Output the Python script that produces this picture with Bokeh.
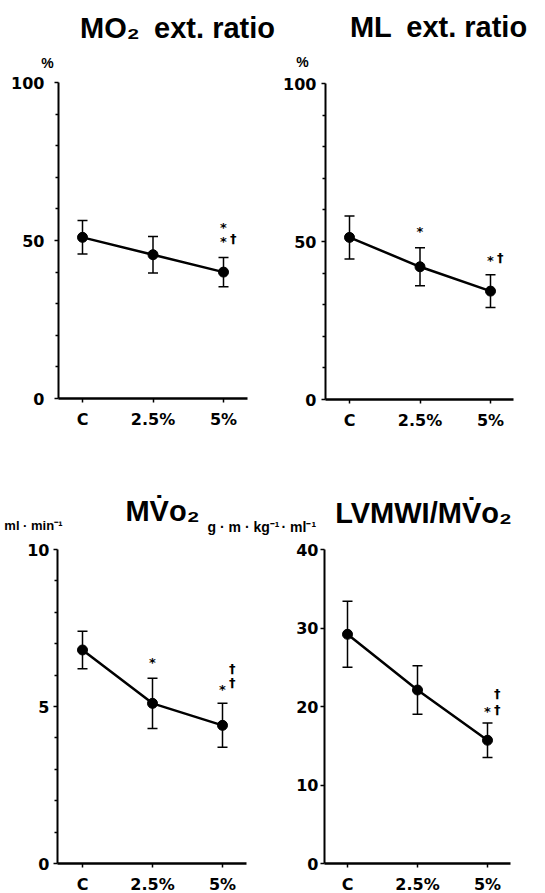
from bokeh.plotting import figure
from bokeh.models import FixedTicker, Whisker, TeeHead, ColumnDataSource, Label, Range1d
from bokeh.layouts import row, column
from bokeh.embed import file_html
from bokeh.resources import INLINE
from bokeh.core.properties import value

# ---------------- data ----------------
categories = ["C", "2.5%", "5%"]
x_idx = [0, 1, 2]

mo2_mean = [51.0, 45.5, 40.0]
mo2_sem = [5.3, 5.8, 4.6]

ml_mean = [51.3, 42.0, 34.3]
ml_sem = [6.8, 6.0, 5.2]

mvo2_mean = [6.8, 5.1, 4.4]
mvo2_sem = [0.6, 0.8, 0.7]

lvmwi_mean = [29.2, 22.1, 15.7]
lvmwi_sem = [4.2, 3.1, 2.2]

# significance marks: (category index, y, symbol)
mo2_marks = [(2, 54.0, "*"), (2, 49.8, "*"), (2.14, 50.6, "†")]
ml_marks = [(1, 53.3, "*"), (2, 44.0, "*"), (2.14, 44.8, "†")]
mvo2_marks = [(1, 6.4, "*"), (2, 5.55, "*"), (2.14, 5.75, "†"), (2.14, 6.2, "†")]
lvmwi_marks = [(2, 19.3, "*"), (2.14, 19.6, "†"), (2.14, 21.6, "†")]

TICK_FONT = "DejaVu Sans"
TITLE_FONT = "Liberation Sans"
SP = "\u2002"   # en space (not collapsed in SVG text)


class Panel:
    """A figure whose frame is the whole canvas; axes are pinned with fixed_location."""

    def __init__(self, W, H, cx0, dx, cy0, dy, ax_left_px, ax_right_px, y_end,
                 major, minor, ystand):
        self.cx0, self.dx, self.cy0, self.dy = cx0, dx, cy0, dy
        xr = Range1d(self.xd(0), self.xd(W))
        yr = Range1d(self.yd(H), self.yd(0))
        p = figure(width=W, height=H, title=None, x_range=xr, y_range=yr,
                   output_backend="svg", toolbar_location=None, min_border=0)
        p.outline_line_color = None
        p.grid.visible = False
        p.background_fill_color = "white"
        x_left = self.xd(ax_left_px)
        x_right = self.xd(ax_right_px)

        xa = p.xaxis[0]
        xa.fixed_location = 0
        xa.bounds = (x_left, x_right)
        xa.ticker = FixedTicker(ticks=x_idx)
        xa.major_label_overrides = {i: c for i, c in zip(x_idx, categories)}
        xa.minor_tick_line_color = None
        xa.major_tick_out = 4
        xa.major_tick_in = 0
        xa.major_tick_line_width = 1.5
        xa.axis_line_width = 2.5
        xa.major_label_standoff = 7
        xa.major_label_text_font = TICK_FONT
        xa.major_label_text_font_style = "bold"
        xa.major_label_text_font_size = "16px"
        xa.major_label_text_color = "black"

        ya = p.yaxis[0]
        ya.fixed_location = x_left
        ya.bounds = (0, y_end)
        ya.ticker = FixedTicker(ticks=major, minor_ticks=minor)
        ya.major_tick_out = 4
        ya.major_tick_in = 0
        ya.minor_tick_out = 3
        ya.minor_tick_in = 0
        ya.major_tick_line_width = 1.5
        ya.minor_tick_line_width = 1.5
        ya.axis_line_width = 2
        ya.major_label_standoff = ystand
        ya.major_label_text_font = TICK_FONT
        ya.major_label_text_font_style = "bold"
        ya.major_label_text_font_size = "16px"
        ya.major_label_text_color = "black"
        self.p = p

    def xd(self, px):
        return (px - self.cx0) / self.dx

    def yd(self, py):
        return (self.cy0 - py) / self.dy

    def series(self, mean, sem, marks):
        p = self.p
        upper = [m + s for m, s in zip(mean, sem)]
        lower = [m - s for m, s in zip(mean, sem)]
        src = ColumnDataSource(dict(x=x_idx, y=mean, upper=upper, lower=lower))
        p.add_layout(Whisker(source=src, base="x", upper="upper", lower="lower",
                             line_width=1.5, line_color="black",
                             upper_head=TeeHead(size=10, line_width=1.5, line_color="black"),
                             lower_head=TeeHead(size=10, line_width=1.5, line_color="black")))
        p.line("x", "y", source=src, line_width=2.5, line_color="black")
        p.scatter("x", "y", source=src, size=10, fill_color="black", line_color="black")
        msrc = ColumnDataSource(dict(x=[m[0] for m in marks], y=[m[1] for m in marks],
                                     t=[m[2] for m in marks]))
        p.text("x", "y", text="t", source=msrc, text_font=value(TICK_FONT),
               text_font_style="bold", text_font_size="13px",
               text_align="center", text_baseline="middle", text_color="black")

    def label(self, px, py, text, size, align="center"):
        self.p.add_layout(Label(x=self.xd(px), y=self.yd(py), text=text,
                                text_font=TITLE_FONT, text_font_style="bold",
                                text_font_size=size, text_align=align,
                                text_baseline="alphabetic", text_color="black"))


# canvas-pixel geometry of each panel (canvas-local coordinates)
P1 = Panel(280, 458, 82, 70.5, 398, 3.16, 58, 247, 100, [0, 50, 100],
           [10, 20, 30, 40, 60, 70, 80, 90], 10)
P2 = Panel(264, 458, 69, 70.5, 399, 3.16, 45, 233, 100, [0, 50, 100],
           [10, 20, 30, 40, 60, 70, 80, 90], 5)
P3 = Panel(280, 434, 82, 70.0, 405, 31.4, 57, 246, 10, [0, 5, 10],
           [1, 2, 3, 4, 6, 7, 8, 9], 4)
P4 = Panel(264, 434, 67, 70.0, 405, 7.85, 44, 230, 40, [0, 10, 20, 30, 40],
           [], 2)

P1.series(mo2_mean, mo2_sem, mo2_marks)
P2.series(ml_mean, ml_sem, ml_marks)
P3.series(mvo2_mean, mvo2_sem, mvo2_marks)
P4.series(lvmwi_mean, lvmwi_sem, lvmwi_marks)

P1.label(177, 27, "MO\u2082" + SP + "ext. ratio", "29px")
P1.label(47, 62, "%", "14px")
P2.label(158, 26, "ML" + SP + "ext. ratio", "29px")
P2.label(22, 61, "%", "14px")

P3.label(162, 52, "MV\u0307o\u2082", "29px")
P3.label(62, 67, "ml \u00b7 min\u207b\u00b9", "13px", align="right")
P3.label(279, 68, "g \u00b7 m \u00b7 kg\u207b\u00b9", "14px", align="right")
P4.label(1, 68, "\u00b7 ml\u207b\u00b9", "14px", align="left")
P4.label(143, 54, "LVMWI/MV\u0307o\u2082", "29px")

layout = column(row(P1.p, P2.p), row(P3.p, P4.p))

open("out.html", "w").write(file_html(layout, INLINE))
